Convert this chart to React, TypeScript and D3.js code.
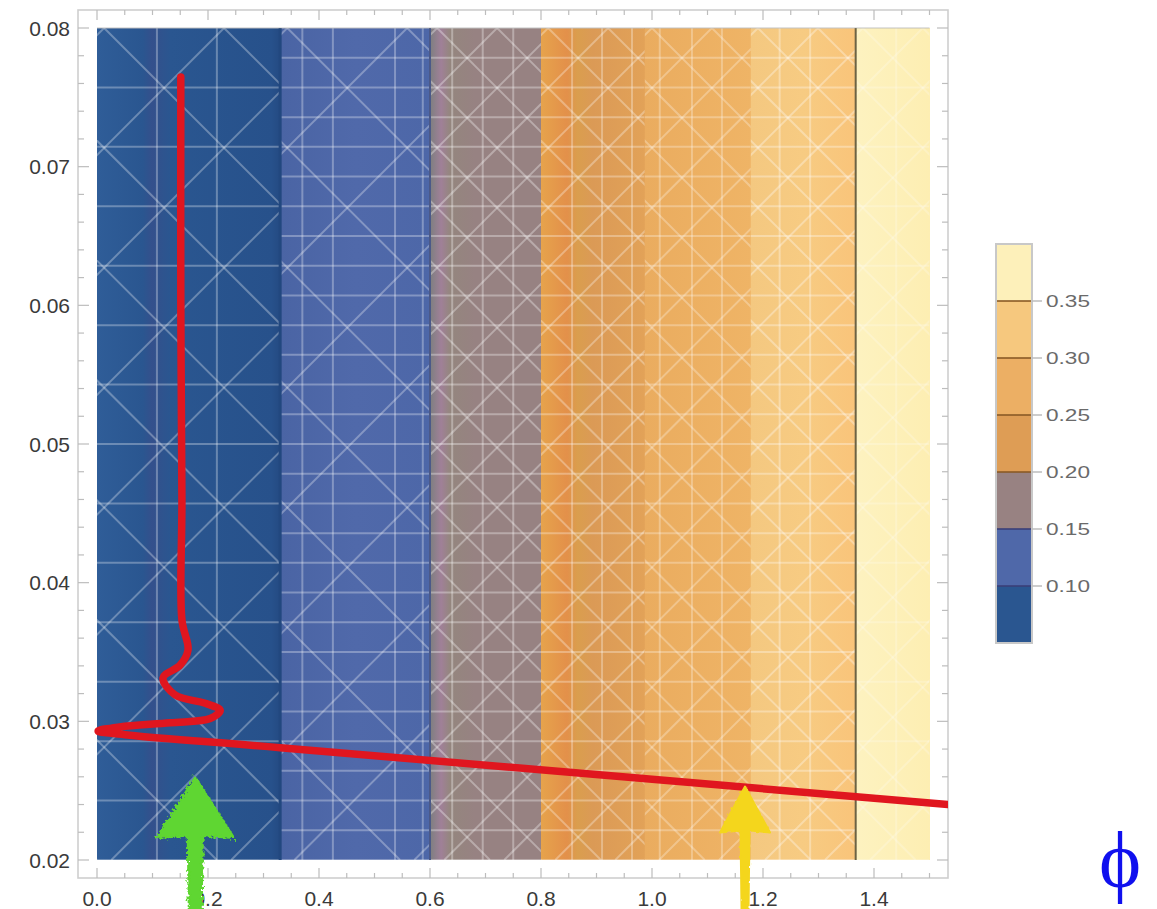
import React from "react";
import * as d3 from "d3";

// ---- data ----
const bandEdges = [0, 0.33, 0.6, 0.8, 0.987, 1.178, 1.367, 1.5];
const bandColors = ["#2a5690", "#4f68a9", "#988282", "#de9d55", "#ecaf64", "#f6c87e", "#fdf0ba"];
const legendLevels = [0.05, 0.1, 0.15, 0.2, 0.25, 0.3, 0.35, 0.4];
const legendTicks = [0.1, 0.15, 0.2, 0.25, 0.3, 0.35];
const xTicks = [0, 0.2, 0.4, 0.6, 0.8, 1.0, 1.2, 1.4];
const yTicks = [0.02, 0.03, 0.04, 0.05, 0.06, 0.07, 0.08];
const meshX = [0.108, 0.216, 0.37, 0.425, 0.537, 0.587, 0.64, 0.695, 0.75, 0.856, 0.91, 0.964, 1.014, 1.072, 1.126, 1.23, 1.285, 1.44];
const bandHorizDiv = [14, 28, 28, 28, 28, 28, 14];
const bandDiagSpacing = [0.216, 0.216, 0.108, 0.108, 0.108, 0.108, 0.108];
const bandMeshOpacity = [0.3, 0.3, 0.32, 0.3, 0.28, 0.32, 0.22];
const curveX = [0.151, 0.151, 0.153, 0.153, 0.164, 0.15, 0.119, 0.141, 0.195, 0.222, 0.204, 0.132, 0.041, 0.002, 0.059, 0.33, 1.533];
const curveY = [0.07647, 0.06039, 0.046, 0.03731, 0.03515, 0.03406, 0.03313, 0.0319, 0.0313, 0.0308, 0.0302, 0.0299, 0.0296, 0.0293, 0.029, 0.0281, 0.024];
const arrowX = [0.177, 1.1676];
const arrowTipY = [0.02599, 0.0253];
const arrowColors = ["#5ed630", "#f4d61e"];

const W = 1157, H = 909;
const x = d3.scaleLinear().domain([0, 1.5]).range([97, 929.5]);
const y = d3.scaleLinear().domain([0.02, 0.08]).range([860, 28]);
const ly = d3.scaleLinear().domain([0.05, 0.4]).range([643, 244]);
const frame = { l: 78, r: 948, t: 10, b: 878 };
const font = "'Liberation Sans', Arial, sans-serif";

export default function App() {
  const top = y(0.08), bot = y(0.02), ph = bot - top;
  const curve = d3.line<number>().x((d) => x(curveX[d])).y((d) => y(curveY[d])).curve(d3.curveCatmullRom.alpha(0.5));
  const curveIdx = curveX.map((_, i) => i);

  const xMinor = d3.range(0, 1.5001, 0.05);
  const yMinor = d3.range(0.02, 0.08001, 0.002);

  const bands = bandColors.map((c, i) => {
    const x0 = x(bandEdges[i]), x1 = x(bandEdges[i + 1]);
    const s = x(bandDiagSpacing[i]) - x(0);
    const lines: JSX.Element[] = [];
    const hs = d3.range(0, bandHorizDiv[i] + 1).map((k) => 0.02 + (k * 0.06) / bandHorizDiv[i]);
    hs.forEach((v, k) => lines.push(<line key={"h" + k} x1={x0} x2={x1} y1={y(v)} y2={y(v)} />));
    let k = 0;
    for (let a = x0 - ph; a <= x1 + ph; a += s) {
      lines.push(<line key={"d" + k++} x1={a} y1={top} x2={a + ph} y2={bot} />);
      lines.push(<line key={"e" + k++} x1={a} y1={top} x2={a - ph} y2={bot} />);
    }
    return (
      <g key={i}>
        <clipPath id={"band" + i}><rect x={x0} y={top} width={x1 - x0} height={ph} /></clipPath>
        <rect x={x0} y={top} width={x1 - x0 + 0.5} height={ph} fill={`url(#grad${i})`} />
        <g clipPath={`url(#band${i})`} stroke="#ffffff" strokeOpacity={bandMeshOpacity[i]} strokeWidth={2}>
          {lines}
          {meshX.filter((v) => v > bandEdges[i] && v < bandEdges[i + 1]).map((v, j) => (
            <line key={"v" + j} x1={x(v)} x2={x(v)} y1={top} y2={bot} />
          ))}
        </g>
      </g>
    );
  });

  const grads = [
    [["0", "#2f5d98"], ["0.25", "#2a5690"], ["0.3", "#34508c"], ["0.4", "#2a5690"], ["0.95", "#27518b"], ["1", "#244a82"]],
    [["0", "#4a64a4"], ["0.5", "#5069aa"], ["1", "#4d67a8"]],
    [["0", "#7d7f80"], ["0.1", "#a08098"], ["0.18", "#94867e"], ["0.4", "#978282"], ["1", "#978282"]],
    [["0", "#e6a34c"], ["0.25", "#e3904a"], ["0.35", "#da9e4e"], ["0.5", "#db9a56"], ["1", "#e2a258"]],
    [["0", "#eaac5f"], ["1", "#efb466"]],
    [["0", "#f4c880"], ["0.5", "#f7cb82"], ["1", "#f9c47a"]],
    [["0", "#fdf2c0"], ["1", "#fdeeb2"]],
  ];

  const arrows = arrowX.map((ax, i) => {
    const tx = x(ax), ty = y(arrowTipY[i]);
    const headH = i === 0 ? 61 : 46, headW = i === 0 ? 78 : 50, sw = i === 0 ? 15 : 9;
    const pts = [
      [tx, ty], [tx + headW / 2, ty + headH], [tx + sw / 2, ty + headH - 2], [tx + sw / 2 - 1, H],
      [tx - sw / 2 + 1, H], [tx - sw / 2, ty + headH - 2], [tx - headW / 2, ty + headH],
    ];
    return (
      <polygon key={i} points={pts.map((p) => p.join(",")).join(" ")} fill={arrowColors[i]}
        stroke={arrowColors[i]} strokeWidth={2} strokeLinejoin="round" filter={i === 0 ? "url(#rough)" : "url(#rough2)"} />
    );
  });

  return (
    <svg width={W} height={H} style={{ position: "absolute", left: 0, top: 0, background: "#fff" }}>
      <defs>
        {grads.map((g, i) => (
          <linearGradient key={i} id={"grad" + i} x1="0" x2="1" y1="0" y2="0">
            {g.map(([o, c], j) => <stop key={j} offset={o} stopColor={c} />)}
          </linearGradient>
        ))}
        <filter id="rough" x="-20%" y="-20%" width="140%" height="140%">
          <feTurbulence type="fractalNoise" baseFrequency="0.35" numOctaves="2" seed="3" />
          <feDisplacementMap in="SourceGraphic" scale="7" />
        </filter>
        <filter id="rough2" x="-20%" y="-20%" width="140%" height="140%">
          <feTurbulence type="fractalNoise" baseFrequency="0.2" numOctaves="1" seed="5" />
          <feDisplacementMap in="SourceGraphic" scale="3" />
        </filter>
        <clipPath id="frameClip"><rect x={frame.l} y={frame.t} width={frame.r - frame.l} height={frame.b - frame.t} /></clipPath>
      </defs>

      {/* frame */}
      <rect x={frame.l} y={frame.t} width={frame.r - frame.l} height={frame.b - frame.t} fill="none" stroke="#cfcfcf" strokeWidth={1.6} />

      {bands}
      {/* band boundary accents */}
      <line x1={x(0.33)} x2={x(0.33)} y1={top} y2={bot} stroke="#22487f" strokeWidth={3} />
      <line x1={x(0.6)} x2={x(0.6)} y1={top} y2={bot} stroke="#4b5988" strokeWidth={2} />
      <line x1={x(1.367)} x2={x(1.367)} y1={top} y2={bot} stroke="#6c6344" strokeWidth={2} />
      <line x1={x(0)} x2={x(1.5)} y1={top} y2={top} stroke="#8a8a8a" strokeOpacity={0.5} strokeWidth={1} />

      {/* ticks */}
      <g stroke="#bdbdbd" strokeWidth={1.2}>
        {xMinor.map((v, i) => {
          const major = Math.abs(v / 0.2 - Math.round(v / 0.2)) < 1e-6;
          const len = major ? 10 : 5;
          return (
            <g key={i}>
              <line x1={x(v)} x2={x(v)} y1={frame.b} y2={frame.b - len} />
              <line x1={x(v)} x2={x(v)} y1={frame.t} y2={frame.t + len} />
            </g>
          );
        })}
        {yMinor.map((v, i) => {
          const major = Math.abs(v / 0.01 - Math.round(v / 0.01)) < 1e-6;
          const len = major ? 11 : 6;
          return (
            <g key={i}>
              <line x1={frame.l} x2={frame.l + len} y1={y(v)} y2={y(v)} />
              <line x1={frame.r} x2={frame.r - len} y1={y(v)} y2={y(v)} />
            </g>
          );
        })}
      </g>
      <g fontFamily={font} fontSize={21} fill="#3a3a3a">
        {yTicks.map((v) => (
          <text key={v} x={70} y={y(v) + 7.5} textAnchor="end">{v.toFixed(2)}</text>
        ))}
        {xTicks.map((v) => (
          <text key={v} x={x(v)} y={906} textAnchor="middle">{v.toFixed(1)}</text>
        ))}
      </g>

      {/* red curve */}
      <g clipPath="url(#frameClip)">
        <path d={curve(curveIdx) || ""} fill="none" stroke="#e0161f" strokeWidth={7.5} strokeLinecap="round" strokeLinejoin="round" />
      </g>

      {/* arrows */}
      {arrows}

      {/* legend */}
      <g>
        {bandColors.map((c, i) => (
          <rect key={i} x={996} y={ly(legendLevels[i + 1])} width={36} height={ly(legendLevels[i]) - ly(legendLevels[i + 1])} fill={c} />
        ))}
        {legendTicks.map((v) => (
          <line key={"s" + v} x1={996} x2={1032} y1={ly(v)} y2={ly(v)} stroke={v >= 0.2 ? "#8a5a25" : "#3a3f78"} strokeWidth={2} strokeOpacity={0.8} />
        ))}
        <rect x={996} y={ly(0.4)} width={36} height={ly(0.05) - ly(0.4)} fill="none" stroke="#c8c8c8" strokeWidth={2} />
        {legendTicks.map((v) => (
          <g key={"t" + v}>
            <line x1={1032} x2={1042} y1={ly(v)} y2={ly(v)} stroke="#bdbdbd" strokeWidth={1.5} />
            <text x={1046} y={ly(v) + 6} fontFamily={font} fontSize={17} fill="#6a6a6a" textLength={44} lengthAdjust="spacingAndGlyphs">{v.toFixed(2)}</text>
          </g>
        ))}
      </g>

      {/* phi */}
      <text x={1120} y={887} textAnchor="middle" fontFamily="'Liberation Serif', 'Times New Roman', serif" fontSize={80} fill="#1010ee">ϕ</text>
    </svg>
  );
}
